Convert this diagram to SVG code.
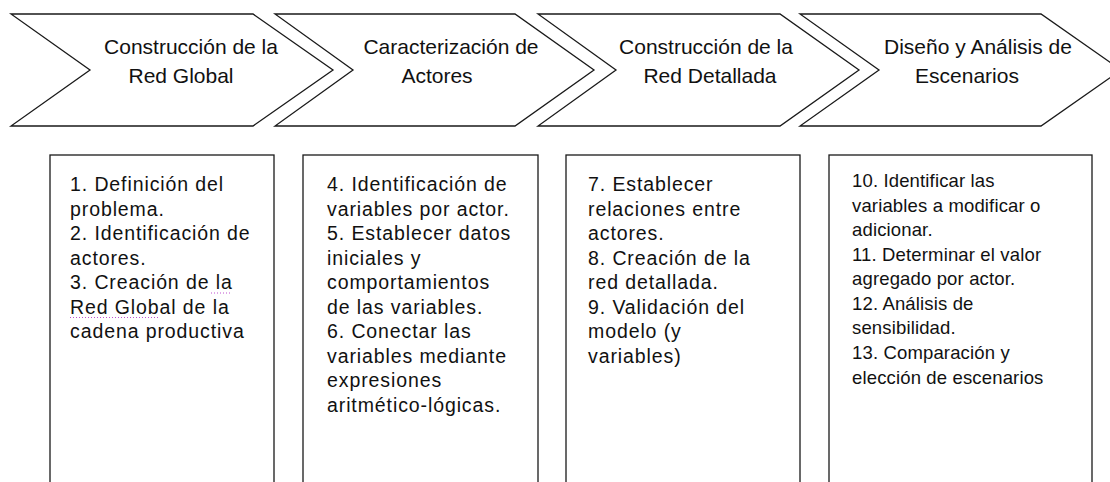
<svg xmlns="http://www.w3.org/2000/svg" width="1110" height="482" viewBox="0 0 1110 482">
<style>
.chev{fill:#fff;stroke:#1a1a1a;stroke-width:1.3}
.box{fill:#fff;stroke:#1a1a1a;stroke-width:1.3}
.ct{font-family:"Liberation Sans",Arial,sans-serif;font-size:21px;fill:#111;text-anchor:middle}
.bt{font-family:"Liberation Sans",Arial,sans-serif;font-size:19.5px;letter-spacing:0.9px;fill:#111}
.bt4{font-family:"Liberation Sans",Arial,sans-serif;font-size:18.5px;letter-spacing:0.15px;fill:#111}
.spell{stroke:#c050d0;stroke-width:1;stroke-dasharray:1 2;fill:none}
</style>
<rect width="1110" height="482" fill="#fff"/>
<g id="step1">
<path class="chev" d="M11,14 H253 L333,70 L253,126 H11 L90,70 Z"/>
<text class="ct"><tspan x="191" y="54">Construcción de la</tspan><tspan x="181" y="83">Red Global</tspan></text>
</g>
<g id="step2">
<path class="chev" d="M275,14 H515 L594,70 L515,126 H275 L353,70 Z"/>
<text class="ct"><tspan x="451" y="54">Caracterización de</tspan><tspan x="437" y="83">Actores</tspan></text>
</g>
<g id="step3">
<path class="chev" d="M538,14 H780 L859,70 L780,126 H538 L616,70 Z"/>
<text class="ct"><tspan x="706" y="54">Construcción de la</tspan><tspan x="710" y="83">Red Detallada</tspan></text>
</g>
<g id="step4">
<path class="chev" d="M800,14 H1041 L1121,70 L1041,126 H800 L879,70 Z"/>
<text class="ct"><tspan x="978" y="54">Diseño y Análisis de</tspan><tspan x="967" y="83">Escenarios</tspan></text>
</g>
<g id="tasks1">
<rect class="box" x="50" y="155" width="224" height="340"/>
<text class="bt">
<tspan x="70" y="191">1. Definición del</tspan>
<tspan x="70" y="215.5">problema.</tspan>
<tspan x="70" y="240">2. Identificación de</tspan>
<tspan x="70" y="264.5">actores.</tspan>
<tspan x="70" y="289">3. Creación de la</tspan>
<tspan x="70" y="313.5">Red Global de la</tspan>
<tspan x="70" y="338">cadena productiva</tspan>
</text>
<path class="spell" d="M211,293 H232 M70,317.5 H158"/>
</g>
<g id="tasks2">
<rect class="box" x="303" y="155" width="235" height="340"/>
<text class="bt">
<tspan x="327" y="191">4. Identificación de</tspan>
<tspan x="327" y="215.5">variables por actor.</tspan>
<tspan x="327" y="240">5. Establecer datos</tspan>
<tspan x="327" y="264.5">iniciales y</tspan>
<tspan x="327" y="289">comportamientos</tspan>
<tspan x="327" y="313.5">de las  variables.</tspan>
<tspan x="327" y="338">6. Conectar las</tspan>
<tspan x="327" y="362.5">variables mediante</tspan>
<tspan x="327" y="387">expresiones</tspan>
<tspan x="327" y="411.5">aritmético-lógicas.</tspan>
</text>
</g>
<g id="tasks3">
<rect class="box" x="566" y="155" width="234" height="340"/>
<text class="bt">
<tspan x="588" y="191">7. Establecer</tspan>
<tspan x="588" y="215.5">relaciones entre</tspan>
<tspan x="588" y="240">actores.</tspan>
<tspan x="588" y="264.5">8. Creación de la</tspan>
<tspan x="588" y="289">red detallada.</tspan>
<tspan x="588" y="313.5">9. Validación del</tspan>
<tspan x="588" y="338">modelo (y</tspan>
<tspan x="588" y="362.5">variables)</tspan>
</text>
</g>
<g id="tasks4">
<rect class="box" x="829" y="155" width="263" height="340"/>
<text class="bt4">
<tspan x="852" y="187">10. Identificar las</tspan>
<tspan x="852" y="211.5">variables a modificar o</tspan>
<tspan x="852" y="236">adicionar.</tspan>
<tspan x="852" y="260.5">11. Determinar el valor</tspan>
<tspan x="852" y="285">agregado por actor.</tspan>
<tspan x="852" y="309.5">12. Análisis de</tspan>
<tspan x="852" y="334">sensibilidad.</tspan>
<tspan x="852" y="358.5">13. Comparación y</tspan>
<tspan x="852" y="384">elección de escenarios</tspan>
</text>
</g>
<g id="connectors"></g>
</svg>
